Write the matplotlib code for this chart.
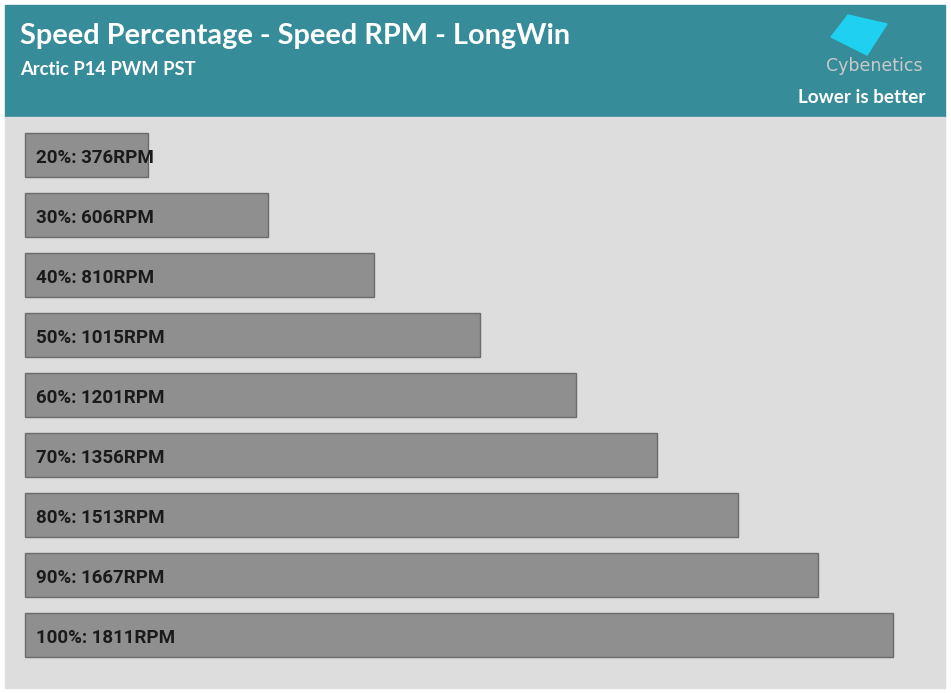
import matplotlib.pyplot as plt
from matplotlib.patches import Rectangle, Polygon

# data
speeds = ["20%", "30%", "40%", "50%", "60%", "70%", "80%", "90%", "100%"]
rpm = [376, 606, 810, 1015, 1201, 1356, 1513, 1667, 1811]

title = "Speed Percentage - Speed RPM - LongWin"
subtitle = "Arctic P14 PWM PST"
note = "Lower is better"

W, H = 951, 693
TEAL = "#378c9a"
PANEL = "#dddddd"
BAR = "#8f8f8f"
BAR_EDGE = "#6b6b6b"
BASE = 139


def fx(px):
    return px / W


def fy(py):
    return 1 - py / H


def main():
    fig = plt.figure(figsize=(W / 100, H / 100), dpi=100)
    fig.patch.set_facecolor("white")

    # header + panel backgrounds (behind the axes)
    fig.patches.append(Rectangle((fx(5), fy(117)), fx(940), 112 / H,
                                 transform=fig.transFigure, color=TEAL, zorder=-2))
    fig.patches.append(Rectangle((fx(5), fy(688)), fx(940), 571 / H,
                                 transform=fig.transFigure, color=PANEL, zorder=-2))

    fig.text(fx(20), fy(36), title, color="white", fontsize=20.8, fontweight="bold",
             family="Lato", va="center", ha="left")
    fig.text(fx(20), fy(69.5), subtitle, color="white", fontsize=13.2, fontweight="bold",
             family="Lato", va="center", ha="left")
    fig.text(fx(926), fy(97.5), note, color="white", fontsize=13.6, fontweight="bold",
             family="Lato", va="center", ha="right")

    # logo
    logo = [(848, 15), (887, 24), (867, 55), (831, 37)]
    fig.patches.append(Polygon([(fx(x), fy(y)) for x, y in logo], closed=True,
                               transform=fig.transFigure, color="#1fd0f0", zorder=1))
    fig.text(fx(874), fy(66), "Cybenetics", color="#c9c9c9", fontsize=12.5,
             family="DejaVu Sans", va="center", ha="center")

    ax = fig.add_axes([fx(5), fy(688), fx(940), 571 / H])
    ax.set_facecolor("none")
    y = list(range(len(speeds)))
    ax.barh(y, [v - BASE for v in rpm], left=BASE, height=0.733,
            color=BAR, edgecolor=BAR_EDGE, linewidth=1)
    for i, (s, v) in enumerate(zip(speeds, rpm)):
        ax.annotate(f"{s}: {v}RPM", (BASE, i), xytext=(11, -3),
                    textcoords="offset pixels", va="center", ha="left",
                    fontsize=13.5, fontweight="bold", family="Roboto",
                    color="#1a1a1a")
    ax.set_xlim(100, 1911)
    ax.set_ylim(8.883, -0.633)
    ax.axis("off")

    fig.savefig("out.png", dpi=100, facecolor="white")


if __name__ == "__main__":
    main()
